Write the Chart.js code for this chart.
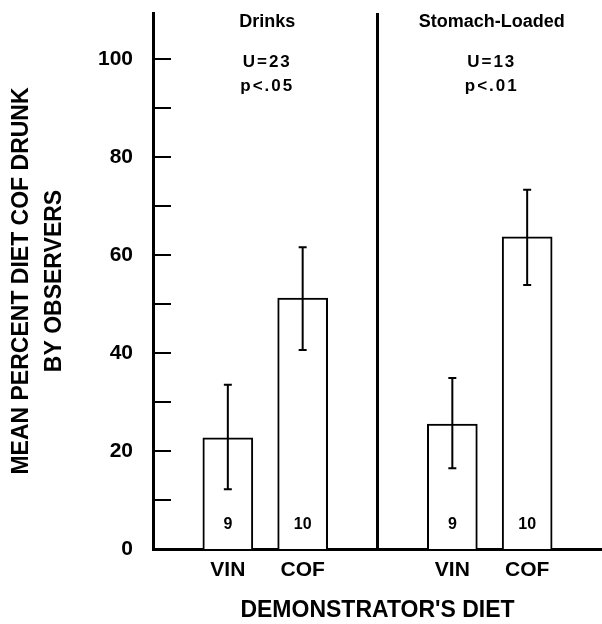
<!DOCTYPE html>
<html>
<head>
<meta charset="utf-8">
<script src="https://cdn.jsdelivr.net/npm/chart.js@4.4.1/dist/chart.umd.min.js"></script>
<style>
  html, body { margin: 0; padding: 0; background: #fff; }
  canvas { display: block; }
</style>
</head>
<body>
<canvas id="c" width="602" height="624"></canvas>
<script>
// ---- data ----
const categories = ['', 'VIN', 'COF', '', 'VIN', 'COF', ''];
const means      = [null, 22.7, 51.2, null, 25.5, 63.7, null];
const errLow     = [null, 12.2, 40.6, null, 16.5, 53.9, null];
const errHigh    = [null, 33.5, 61.6, null, 34.9, 73.3, null];
const nLabels    = ['', '9', '10', '', '9', '10', ''];
const panelTitles = ['Drinks', 'Stomach-Loaded'];
const uStats      = ['U=23', 'U=13'];
const pStats      = ['p<.05', 'p<.01'];
const panelBounds = [[0, 3], [3, 6]];   // category index ranges of each panel
const yMajorLabels = [0, 20, 40, 60, 80, 100];
const yAxisMax = 109.4;
const yTitle = ['MEAN PERCENT DIET COF DRUNK', 'BY OBSERVERS'];
const xTitle = "DEMONSTRATOR'S DIET";

const FONT = "'Liberation Sans', Arial, Helvetica, sans-serif";
Chart.defaults.font.family = FONT;
Chart.defaults.color = '#000';

const overlay = {
  id: 'overlay',
  afterDatasetsDraw(chart) {
    const { ctx, chartArea, scales: { x, y } } = chart;
    ctx.save();
    ctx.strokeStyle = '#000';
    ctx.fillStyle = '#000';
    ctx.lineCap = 'butt';

    // inward tick marks on the y axis
    ctx.lineWidth = 2;
    y.ticks.forEach(t => {
      if (t.value <= 0 || t.value > 100) return;
      const py = Math.round(y.getPixelForValue(t.value));
      ctx.beginPath();
      ctx.moveTo(chartArea.left, py);
      ctx.lineTo(chartArea.left + 18, py);
      ctx.stroke();
    });

    // divider between panels
    const divX = x.getPixelForValue(panelBounds[1][0]);
    ctx.lineWidth = 3;
    ctx.beginPath();
    ctx.moveTo(divX, chartArea.top);
    ctx.lineTo(divX, chartArea.bottom);
    ctx.stroke();

    // error bars and n labels
    means.forEach((m, i) => {
      if (m == null) return;
      const px = x.getPixelForValue(i);
      const yl = y.getPixelForValue(errLow[i]);
      const yh = y.getPixelForValue(errHigh[i]);
      ctx.lineWidth = 2;
      ctx.beginPath();
      ctx.moveTo(px, yl); ctx.lineTo(px, yh);
      ctx.moveTo(px - 4, yl); ctx.lineTo(px + 4, yl);
      ctx.moveTo(px - 4, yh); ctx.lineTo(px + 4, yh);
      ctx.stroke();

      ctx.font = 'bold 16px ' + FONT;
      ctx.textAlign = 'center';
      ctx.textBaseline = 'middle';
      ctx.fillText(nLabels[i], px, y.getPixelForValue(0) - 24);
    });

    // panel headings and statistics
    panelBounds.forEach((b, k) => {
      const cx = (x.getPixelForValue(b[0]) + x.getPixelForValue(b[1])) / 2 + 2;
      ctx.textAlign = 'center';
      ctx.textBaseline = 'middle';
      ctx.font = 'bold 18px ' + FONT;
      ctx.fillText(panelTitles[k], cx, y.getPixelForValue(0) - 527);
      ctx.font = 'bold 17px ' + FONT;
      ctx.letterSpacing = '2px';
      ctx.fillText(uStats[k], cx, y.getPixelForValue(0) - 487);
      ctx.fillText(pStats[k], cx, y.getPixelForValue(0) - 463);
      ctx.letterSpacing = '0px';
    });
    ctx.restore();
  }
};

new Chart(document.getElementById('c'), {
  type: 'bar',
  data: {
    labels: categories,
    datasets: [{
      data: means,
      backgroundColor: '#fff',
      borderColor: '#000',
      borderWidth: 2,
      borderSkipped: 'start',
      barThickness: 50
    }]
  },
  options: {
    responsive: false,
    animation: false,
    devicePixelRatio: 1,
    layout: { padding: { top: 13, right: 0, bottom: 0, left: 0 } },
    plugins: { legend: { display: false }, tooltip: { enabled: false } },
    scales: {
      x: {
        offset: false,
        grid: { display: false, drawTicks: false },
        border: { display: true, color: '#000', width: 3 },
        ticks: {
          autoSkip: false, maxRotation: 0, padding: 9,
          font: { size: 21, weight: 'bold' }, color: '#000'
        },
        title: {
          display: true, text: xTitle, color: '#000',
          font: { size: 23, weight: 'bold' },
          padding: { top: 0, bottom: 0 }
        },
        afterFit: s => {
          s.height = 75;
          s.paddingLeft = 0; s.paddingRight = 0; s.paddingTop = 0; s.paddingBottom = 0;
        }
      },
      y: {
        min: 0, max: yAxisMax,
        grid: { display: false, drawTicks: false },
        border: { display: true, color: '#000', width: 3 },
        ticks: {
          stepSize: 10, padding: 20, color: '#000',
          font: { size: 21, weight: 'bold' },
          callback: v => (yMajorLabels.includes(v) ? String(v) : '')
        },
        title: {
          display: true, text: yTitle, color: '#000',
          font: { size: 23, weight: 'bold', lineHeight: 1.43 },
          padding: { top: 5, bottom: 0 }
        },
        afterFit: s => {
          s.width = 153;
          s.paddingLeft = 0; s.paddingRight = 0; s.paddingTop = 0; s.paddingBottom = 0;
        }
      }
    }
  },
  plugins: [overlay]
});
</script>
</body>
</html>
